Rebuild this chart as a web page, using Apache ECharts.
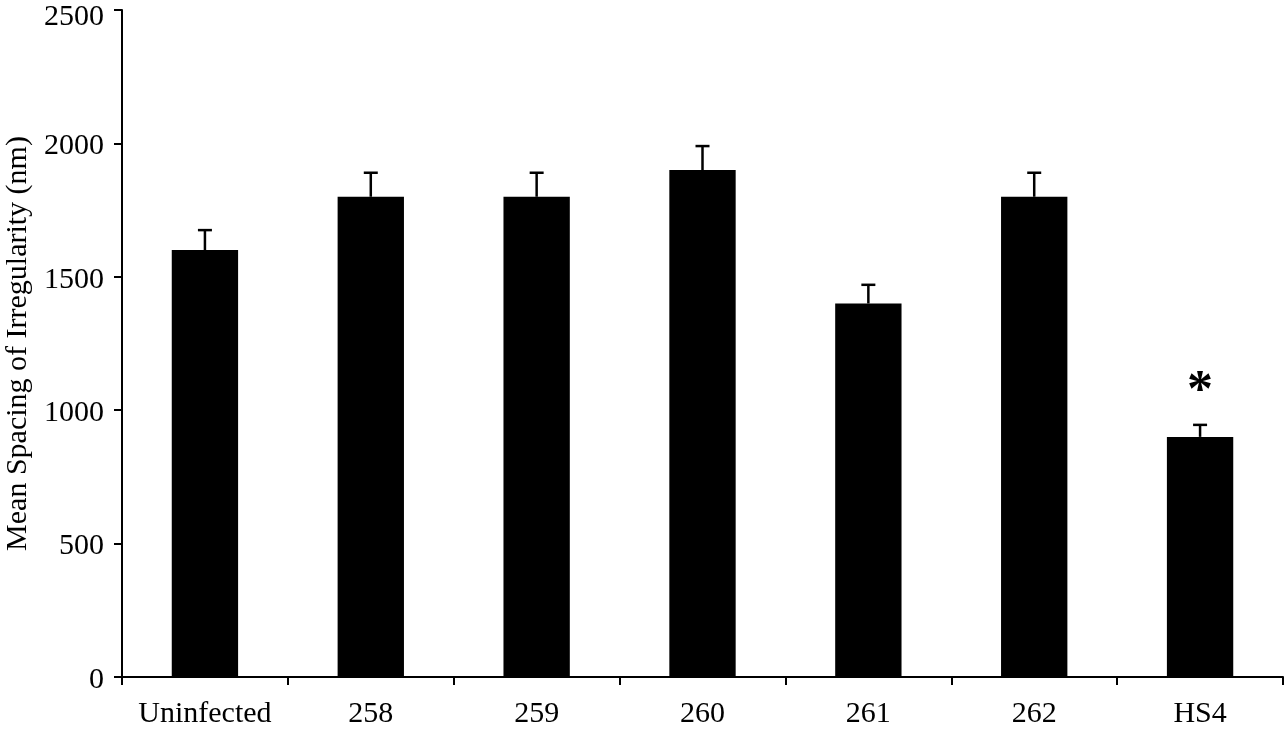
<!DOCTYPE html>
<html>
<head>
<meta charset="utf-8">
<script src="https://cdn.jsdelivr.net/npm/echarts@6/dist/echarts.min.js"></script>
<style>
    html, body { margin: 0; padding: 0; background: #fff; }
    #chart { width: 1284px; height: 735px; }
</style>
</head>
<body>
<div id="chart"></div>
<script>
    // data
    var categories = ['Uninfected', '258', '259', '260', '261', '262', 'HS4'];
    var meanValues = [1600, 1800, 1800, 1900, 1400, 1800, 900];
    var errorValues = [75, 90, 90, 90, 70, 90, 45];
    var sigMarks = ['', '', '', '', '', '', '*'];

    var serif = '"Liberation Serif", "DejaVu Serif", serif';

    var myChart = echarts.init(document.getElementById('chart'));
    myChart.setOption({
        animation: false,
        grid: {
            left: 122,
            right: 1,
            top: 10,
            bottom: 58,
            containLabel: false,
            outerBoundsMode: 'none'
        },
        xAxis: {
            type: 'category',
            data: categories,
            axisLine: { lineStyle: { color: '#000', width: 2 } },
            axisTick: { show: true, interval: 0, length: 8, lineStyle: { color: '#000', width: 2 } },
            axisLabel: { interval: 0, color: '#000', fontFamily: serif, fontSize: 30, margin: 22 }
        },
        yAxis: {
            type: 'value',
            min: 0,
            max: 2500,
            interval: 500,
            name: 'Mean Spacing of Irregularity (nm)',
            nameLocation: 'middle',
            nameGap: 89,
            nameTextStyle: { color: '#000', fontFamily: serif, fontSize: 30 },
            splitLine: { show: false },
            axisLine: { show: true, lineStyle: { color: '#000', width: 2 } },
            axisTick: { show: true, length: 8, lineStyle: { color: '#000', width: 2 } },
            axisLabel: {
                color: '#000', fontFamily: serif, fontSize: 30, margin: 18,
                padding: [6, 0, 0, 0],
                formatter: function (v) { return v === 2500 ? '{top|' + v + '}' : String(v); },
                rich: {
                    top: { fontFamily: serif, fontSize: 30, color: '#000', padding: [8, 0, 0, 0] }
                }
            }
        },
        series: [
            {
                type: 'bar',
                data: meanValues,
                barWidth: '40%',
                itemStyle: { color: '#000' },
                z: 2
            },
            {
                // error bars (upper only) and significance mark
                type: 'custom',
                z: 3,
                data: meanValues.map(function (v, i) { return [i, v, v + errorValues[i]]; }),
                renderItem: function (params, api) {
                    var i = api.value(0);
                    var base = api.coord([i, api.value(1)]);
                    var top = api.coord([i, api.value(2)]);
                    var half = 7;
                    var children = [
                        { type: 'line', shape: { x1: base[0], y1: base[1], x2: top[0], y2: top[1] },
                          style: { stroke: '#000', lineWidth: 2.5 } },
                        { type: 'line', shape: { x1: top[0] - half, y1: top[1], x2: top[0] + half, y2: top[1] },
                          style: { stroke: '#000', lineWidth: 2.5 } }
                    ];
                    if (sigMarks[i]) {
                        children.push({
                            type: 'text',
                            x: top[0],
                            y: top[1] - 32,
                            style: {
                                text: sigMarks[i],
                                fill: '#000',
                                font: 'bold 52px ' + serif,
                                align: 'center',
                                verticalAlign: 'middle'
                            }
                        });
                    }
                    return { type: 'group', children: children };
                }
            }
        ]
    });
</script>
</body>
</html>
